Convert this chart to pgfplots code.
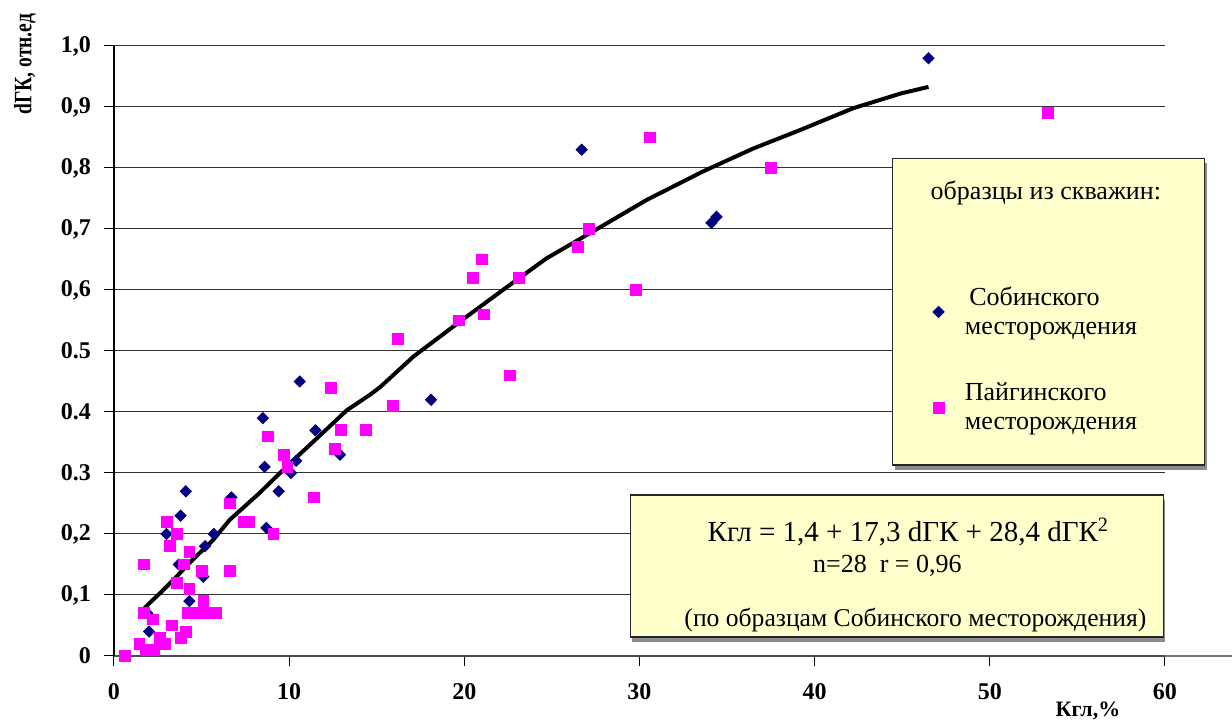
\documentclass[border=0pt]{standalone}
\usepackage{fontspec}
\setmainfont{Liberation Serif}
\usepackage{graphicx}
\usepackage{pgfplots}
\pgfplotsset{compat=1.18}
\definecolor{navyd}{RGB}{0,0,128}
\definecolor{mag}{RGB}{255,0,255}
\definecolor{boxy}{RGB}{255,255,204}
\begin{document}
\begin{tikzpicture}
\begin{axis}[
  at={(0,0)}, anchor=south west,
  scale only axis, width=525.5pt, height=305pt,
  xmin=0, xmax=60, ymin=0, ymax=1,
  clip=false,
  axis lines=left,
  axis line style={-},
  x axis line style={black!70, line width=1.3pt},
  y axis line style={black, line width=0.6pt},
  ymajorgrids, major grid style={black!80, line width=0.5pt},
  tick align=outside, major tick length=5pt,
  tick style={black, line width=0.5pt},
  xtick={0,10,20,30,40,50,60},
  xticklabels={0,10,20,30,40,50,60},
  ytick={0,0.1,0.2,0.3,0.4,0.5,0.6,0.7,0.8,0.9,1.0},
  yticklabels={0,{0,1},{0,2},0.3,0.4,0.5,{0,6},{0,7},{0,8},{0,9},{1,0}},
  ticklabel style={font=\fontsize{12}{14}\selectfont\bfseries},
  yticklabel style={xshift=-3pt},
  xticklabel style={yshift=-5pt},
  legend style={at={(axis cs:46.34,0.619)}, anchor=north west, draw=none, fill=none,
    font=\fontsize{13}{14.3}\selectfont, cells={align=left}, row sep=19pt},
  legend cell align=left,
  legend image code/.code={\path (-3pt,0pt) (11pt,0pt); \draw[#1] plot coordinates {(0pt,0pt)};},
]
% legend box
\fill[black!45] (axis cs:44.56,0.305) rectangle (axis cs:62.37,0.808);
\draw[fill=boxy, draw=black!85, line width=0.7pt] (axis cs:44.46,0.313) rectangle (axis cs:62.27,0.816);
% equation box
\fill[black!45] (axis cs:29.6,0.023) rectangle (axis cs:60.0,0.256);
\draw[fill=boxy, draw=black!85, line width=0.7pt] (axis cs:29.5,0.031) rectangle (axis cs:59.9,0.264);

\addplot[only marks, mark=diamond*, mark size=2.8pt,
  mark options={fill=navyd, draw=navyd, xscale=1.33}] coordinates {
(46.5,0.98) (26.7,0.83) (34.1,0.71) (34.4,0.72) (18.1,0.42) (10.6,0.45)
(8.5,0.39) (11.5,0.37) (12.9,0.33) (8.6,0.31) (10.4,0.32) (10.1,0.30)
(9.4,0.27) (6.7,0.26) (4.1,0.27) (3.8,0.23) (3.0,0.20) (8.7,0.21)
(5.7,0.20) (5.2,0.18) (3.7,0.15) (5.1,0.13) (4.3,0.09) (2.0,0.04) (1.9,0.07)
};
\addlegendentry{\,Собинского\\месторождения}
\addplot[only marks, mark=square*, mark size=2.7pt,
  mark options={fill=mag, draw=mag}] coordinates {
(53.3,0.89) (30.6,0.85) (37.5,0.80) (27.1,0.70) (26.5,0.67) (29.8,0.60)
(23.1,0.62) (20.5,0.62) (21.0,0.65) (21.1,0.56) (19.7,0.55) (16.2,0.52)
(22.6,0.46) (15.9,0.41) (14.4,0.37) (12.4,0.44) (12.95,0.37) (12.6,0.34)
(8.8,0.36) (9.7,0.33) (9.9,0.31) (6.6,0.25) (11.4,0.26) (7.4,0.22)
(7.7,0.22) (9.1,0.20) (3.0,0.22) (3.6,0.20) (3.2,0.18) (4.3,0.17)
(1.7,0.15) (4.0,0.15) (5.0,0.14) (6.6,0.14) (3.6,0.12) (4.3,0.11)
(5.1,0.09) (4.2,0.07) (4.7,0.07) (5.3,0.07) (5.8,0.07) (1.7,0.07)
(2.2,0.06) (3.3,0.05) (4.1,0.04) (3.8,0.03) (2.6,0.03) (2.9,0.02)
(1.45,0.02) (1.8,0.01) (2.3,0.01) (0.6,0.0)
};
\addlegendentry{Пайгинского\\месторождения}
\addplot[black, line width=2pt, forget plot] coordinates {
(1.5,0.071) (2.0,0.086) (2.7,0.105) (3.4,0.125) (4.5,0.158) (5.65,0.19)
(6.6,0.223) (8.3,0.267) (10.05,0.316) (11.7,0.36) (13.3,0.403) (14.6,0.428)
(15.2,0.441) (17.1,0.491) (19.6,0.545) (22.2,0.6) (24.7,0.652) (27.7,0.702)
(30.4,0.7475) (33.6,0.794) (36.5,0.832) (39.15,0.862) (42.2,0.898)
(44.9,0.922) (46.5,0.933)
};
\draw[black!55, line width=1.3pt] (axis cs:60,0) -- (axis cs:63.8,0);

\node[font=\fontsize{13}{15}\selectfont] at (axis cs:53.2,0.7585) {образцы из скважин:};
\node[font=\fontsize{14.5}{16}\selectfont] at (axis cs:45.35,0.203) {Кгл = 1,4 + 17,3 dГК + 28,4 dГК\textsuperscript{2}};
\node[font=\fontsize{13}{15}\selectfont] at (axis cs:44.15,0.1475) {n=28~~r = 0,96};
\node[font=\fontsize{12.8}{15}\selectfont] at (axis cs:45.75,0.059) {(по образцам Собинского месторождения)};

\node[rotate=90, font=\fontsize{12.5}{14}\selectfont\bfseries] at (rel axis cs:-0.0847,0.97) {\scalebox{0.78}[1]{dГК, отн.ед}};
\node[font=\fontsize{11}{13}\selectfont\bfseries] at (rel axis cs:0.9267,-0.09) {Кгл,\%};
\end{axis}
\pgfresetboundingbox
\path[use as bounding box] (-57pt,-33pt) rectangle (559pt,328pt);
\end{tikzpicture}
\end{document}
